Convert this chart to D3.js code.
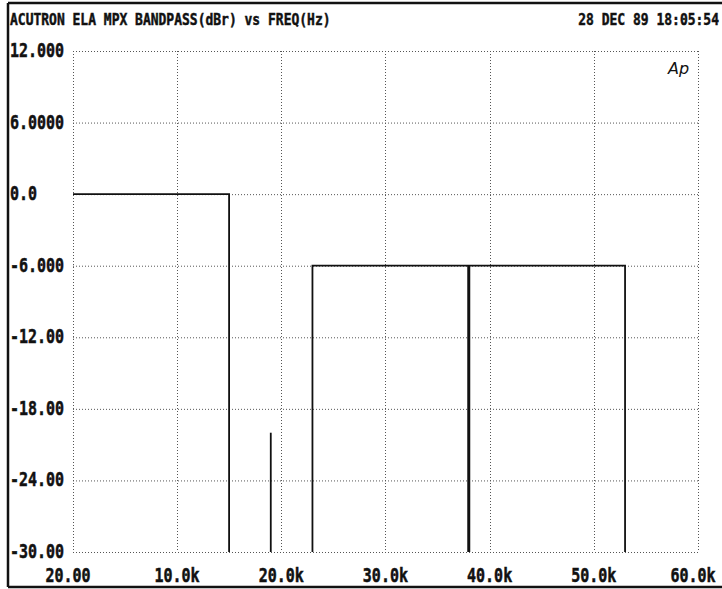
<!DOCTYPE html>
<head>
	<title>ACUTRON ELA MPX BANDPASS</title>
	<script src="https://d3js.org/d3.v7.min.js"></script>
	<style>
	body { margin: 0; background: #fff; }
	text { font-family: "DejaVu Sans Mono", "Liberation Mono", monospace; font-weight: bold; fill: #111; stroke: #111; stroke-width: 0.4px; }
	</style>
</head>
<body>
<script type="text/javascript">

	//Chart text
	var title = "ACUTRON ELA MPX BANDPASS(dBr) vs FREQ(Hz)"
	var stamp = "28 DEC 89 18:05:54"

	//Axis ticks
	var xTicks = [20, 10000, 20000, 30000, 40000, 50000, 60000]
	var xTickLabels = ["20.00", "10.0k", "20.0k", "30.0k", "40.0k", "50.0k", "60.0k"]
	var yTicks = [12, 6, 0, -6, -12, -18, -24, -30]
	var yTickLabels = ["12.000", "6.0000", "0.0", "-6.000", "-12.00", "-18.00", "-24.00", "-30.00"]

	//Trace segments, freq in Hz and level in dBr
	var mainFreq = [20, 15000, 15000]
	var mainLevel = [0, 0, -30]
	var pilotFreq = [19000, 19000]
	var pilotLevel = [-30, -20]
	var sideFreq = [23000, 23000, 53000, 53000]
	var sideLevel = [-30, -6, -6, -30]
	var carrierFreq = [38000, 38000]
	var carrierLevel = [-6, -30]

	var margin = {top: 51, left: 73, bottom: 37, right: 24}
	var W = 722, H = 589
	var width = W - margin.left - margin.right
	var height = H - margin.top - margin.bottom

	var svg = d3.select("body")
				.append("svg")
				.attr("width", W)
				.attr("height", H)

	var x = d3.scaleLinear().domain([20, 60000]).range([margin.left, margin.left + width])
	var y = d3.scaleLinear().domain([-30, 12]).range([margin.top + height, margin.top])

	//outer frame of the printout
	var frame = svg.append("g").attr("stroke", "#111").attr("stroke-width", 2.5)
	frame.append("line").attr("x1", 8).attr("x2", 722).attr("y1", 3).attr("y2", 3)
	frame.append("line").attr("x1", 8).attr("x2", 8).attr("y1", 3).attr("y2", 587)
	frame.append("line").attr("x1", 8).attr("x2", 722).attr("y1", 587).attr("y2", 587)

	//dotted grid
	var grid = svg.append("g")
		.attr("stroke", "#555")
		.attr("stroke-width", 1)
		.attr("stroke-dasharray", "1,2")

	grid.selectAll(".hgrid")
		.data(yTicks)
		.enter().append("line")
		.attr("class", "hgrid")
		.attr("x1", x(20)).attr("x2", x(60000))
		.attr("y1", function(d) { return y(d) + 0.5 })
		.attr("y2", function(d) { return y(d) + 0.5 })

	grid.selectAll(".vgrid")
		.data(xTicks)
		.enter().append("line")
		.attr("class", "vgrid")
		.attr("y1", y(12)).attr("y2", y(-30))
		.attr("x1", function(d) { return Math.round(x(d)) + 0.5 })
		.attr("x2", function(d) { return Math.round(x(d)) + 0.5 })

	//helper for the tall narrow plotter lettering
	function label(sel, tx, ty, txt, size, sy, anchor) {
		sel.append("text")
			.attr("transform", "translate(" + tx + "," + ty + ") scale(1," + sy + ")")
			.attr("text-anchor", anchor)
			.style("font-size", size + "px")
			.text(txt)
	}

	label(svg, 10, 25, title, 13, 1.2, "start")
	label(svg, 719, 25, stamp, 13, 1.2, "end")

	var yl = svg.append("g")
	yTicks.forEach(function(d, i) {
		label(yl, 10, y(d) + 6, yTickLabels[i], 15, 1.35, "start")
	})

	var xl = svg.append("g")
	xTicks.forEach(function(d, i) {
		var px = x(d)
		if (i == 0) px = px - 5
		if (i == xTicks.length - 1) px = px - 5
		label(xl, px, 582, xTickLabels[i], 15, 1.35, "middle")
	})

	//Ap logo
	svg.append("text")
		.attr("x", 668).attr("y", 74)
		.style("font-family", "'DejaVu Sans', sans-serif")
		.style("font-style", "italic")
		.style("font-weight", "normal")
		.style("stroke-width", "0")
		.style("font-size", "16px")
		.text("Ap")

	//traces
	var line = d3.line()
		.x(function(d) { return x(d[0]) })
		.y(function(d) { return y(d[1]) })

	function pts(f, l) { return f.map(function(v, i) { return [v, l[i]] }) }

	var traces = [
		{p: pts(mainFreq, mainLevel), w: 1.8},
		{p: pts(pilotFreq, pilotLevel), w: 1.8},
		{p: pts(sideFreq, sideLevel), w: 1.8},
		{p: pts(carrierFreq, carrierLevel), w: 3}
	]

	svg.append("g").selectAll("path")
		.data(traces)
		.enter().append("path")
		.attr("d", function(d) { return line(d.p) })
		.attr("fill", "none")
		.attr("stroke", "#111")
		.attr("stroke-width", function(d) { return d.w })

</script>
</body>
</html>
